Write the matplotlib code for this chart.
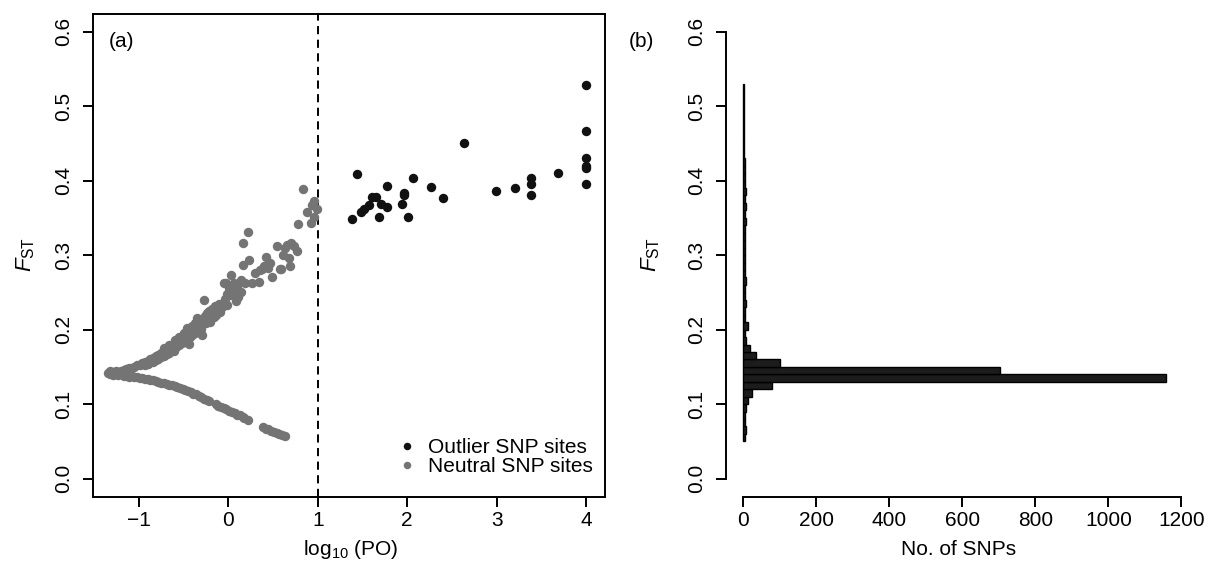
import numpy as np
import matplotlib
matplotlib.use('Agg')
import matplotlib.pyplot as plt
from matplotlib.lines import Line2D

plt.rcParams['font.family'] = ['Liberation Sans', 'DejaVu Sans']
plt.rcParams['mathtext.fontset'] = 'custom'
plt.rcParams['mathtext.rm'] = 'Liberation Sans'
plt.rcParams['mathtext.it'] = 'Liberation Sans:italic'
plt.rcParams['axes.unicode_minus'] = True

# ---------------- data ----------------
outlier_log_po = [4.0, 4.0, 4.0, 4.0, 4.0, 4.0, 3.69, 3.39, 3.39, 3.39, 3.21, 2.99, 2.64,
                  2.40, 2.27, 2.07, 1.97, 1.97, 1.94, 2.01, 1.77, 1.77, 1.71, 1.68, 1.65,
                  1.61, 1.57, 1.52, 1.48, 1.44, 1.38]
outlier_fst = [0.528, 0.466, 0.430, 0.420, 0.417, 0.396, 0.410, 0.404, 0.395, 0.381, 0.390,
               0.386, 0.450, 0.377, 0.391, 0.404, 0.384, 0.380, 0.368, 0.351, 0.393, 0.365,
               0.368, 0.351, 0.378, 0.378, 0.367, 0.362, 0.358, 0.409, 0.348]

neutral_log_po = [
    # apex
    -1.34, -1.32, -1.32, -1.29, -1.29, -1.26, -1.26, -1.23, -1.23, -1.20, -1.20, -1.17, -1.17,
    -1.14, -1.14, -1.11, -1.11, -1.08, -1.08, -1.05, -1.05, -1.02, -1.02, -0.99, -0.99,
    # lower branch
    -0.96, -0.93, -0.90, -0.87, -0.84, -0.81, -0.78, -0.75, -0.72, -0.69, -0.66, -0.63, -0.60,
    -0.57, -0.54, -0.51, -0.48, -0.45, -0.42, -0.39, -0.36, -0.33, -0.30, -0.27, -0.24, -0.22,
    -0.14, -0.11, -0.08, -0.05, -0.02, 0.01, 0.04, 0.07, 0.10, 0.13, 0.16, 0.18, 0.22,
    0.39, 0.42, 0.45, 0.48, 0.51, 0.54, 0.57, 0.60, 0.63,
    # upper branch
    -0.96, -0.93, -0.93, -0.90, -0.90, -0.87, -0.87, -0.84, -0.84, -0.81, -0.81, -0.78, -0.78,
    -0.75, -0.75, -0.72, -0.72, -0.72, -0.69, -0.69, -0.66, -0.66, -0.66, -0.63, -0.63, -0.61,
    -0.61, -0.60, -0.58, -0.58, -0.55, -0.55, -0.55, -0.52, -0.52, -0.49, -0.49, -0.49, -0.46,
    -0.46, -0.46, -0.43, -0.43, -0.40, -0.40, -0.40, -0.37, -0.37, -0.37, -0.35, -0.34, -0.32,
    -0.32, -0.29, -0.29, -0.28, -0.27, -0.26, -0.25, -0.24, -0.22, -0.21, -0.19, -0.18, -0.16,
    -0.16, -0.15, -0.14, -0.12, -0.10, -0.10, -0.09, -0.05, -0.04, -0.03, -0.01, -0.01, 0.03,
    0.03, 0.06, 0.06, 0.09, 0.10, 0.14, 0.14, 0.16, 0.16, 0.22, 0.23, 0.27, 0.34, 0.36, 0.38,
    0.40, 0.42, 0.44, 0.49, 0.55, 0.58, 0.59, 0.64, 0.66, 0.68, 0.69, 0.70, 0.77, 0.78, 0.84,
    0.88, 0.92, 0.94, 0.96, 0.96, 0.99,
    # extra scatter around the upper branch
    -0.44, -0.31, -0.20, -0.07, 0.01, 0.11, 0.19, 0.30, 0.47, 0.61, 0.73]
neutral_fst = [
    # apex
    0.142, 0.140, 0.144, 0.139, 0.143, 0.141, 0.145, 0.139, 0.143, 0.140, 0.145, 0.138, 0.146,
    0.139, 0.147, 0.137, 0.148, 0.138, 0.149, 0.136, 0.150, 0.137, 0.152, 0.135, 0.153,
    # lower branch
    0.135, 0.134, 0.134, 0.133, 0.132, 0.131, 0.130, 0.129, 0.128, 0.127, 0.126, 0.125, 0.124,
    0.123, 0.121, 0.120, 0.119, 0.117, 0.116, 0.114, 0.113, 0.111, 0.109, 0.107, 0.105, 0.104,
    0.100, 0.098, 0.096, 0.095, 0.093, 0.091, 0.089, 0.088, 0.086, 0.085, 0.083, 0.082, 0.079,
    0.069, 0.067, 0.066, 0.064, 0.063, 0.061, 0.060, 0.058, 0.057,
    # upper branch
    0.155, 0.156, 0.152, 0.158, 0.154, 0.160, 0.156, 0.162, 0.157, 0.164, 0.159, 0.166, 0.161,
    0.168, 0.163, 0.170, 0.165, 0.175, 0.172, 0.167, 0.175, 0.169, 0.180, 0.177, 0.172, 0.171,
    0.181, 0.186, 0.182, 0.176, 0.185, 0.179, 0.190, 0.187, 0.182, 0.190, 0.185, 0.196, 0.202,
    0.192, 0.187, 0.196, 0.190, 0.199, 0.193, 0.205, 0.201, 0.196, 0.209, 0.215, 0.206, 0.205,
    0.199, 0.193, 0.210, 0.214, 0.240, 0.218, 0.209, 0.222, 0.213, 0.225, 0.218, 0.228, 0.224,
    0.217, 0.232, 0.220, 0.231, 0.235, 0.226, 0.224, 0.262, 0.241, 0.263, 0.233, 0.248, 0.273,
    0.246, 0.263, 0.251, 0.238, 0.258, 0.266, 0.250, 0.287, 0.316, 0.331, 0.293, 0.262, 0.264,
    0.280, 0.281, 0.286, 0.298, 0.283, 0.271, 0.312, 0.281, 0.282, 0.309, 0.313, 0.296, 0.286,
    0.316, 0.306, 0.342, 0.389, 0.358, 0.343, 0.367, 0.373, 0.351, 0.362,
    # extra scatter around the upper branch
    0.181, 0.201, 0.210, 0.230, 0.256, 0.244, 0.262, 0.276, 0.290, 0.300, 0.312]

hist_bin_low = [0.05, 0.06, 0.07, 0.08, 0.09, 0.10, 0.11, 0.12, 0.13, 0.14, 0.15, 0.16,
                0.17, 0.18, 0.19, 0.20, 0.21, 0.22, 0.23, 0.24, 0.25, 0.26, 0.27, 0.28,
                0.29, 0.30, 0.31, 0.32, 0.33, 0.34, 0.35, 0.36, 0.37, 0.38, 0.39, 0.40,
                0.41, 0.42, 0.43, 0.44, 0.45, 0.46, 0.47, 0.48, 0.49, 0.50, 0.51, 0.52]
hist_counts = [4, 7, 4, 5, 8, 12, 25, 80, 1159, 702, 101, 34,
               19, 7, 5, 14, 5, 6, 7, 5, 6, 7, 5, 6,
               5, 6, 5, 4, 5, 7, 6, 7, 6, 8, 5, 6,
               4, 4, 3, 3, 3, 3, 2, 2, 2, 2, 2, 2]
bin_width = 0.01

x_ticks_a = [-1, 0, 1, 2, 3, 4]
y_ticks = [0.0, 0.1, 0.2, 0.3, 0.4, 0.5, 0.6]
y_ticklabels = ['0.0', '0.1', '0.2', '0.3', '0.4', '0.5', '0.6']
x_ticks_b = [0, 200, 400, 600, 800, 1000, 1200]
legend_labels = ['Outlier SNP sites', 'Neutral SNP sites']

# ---------------- figure ----------------
W, H = 1225, 577
fig = plt.figure(figsize=(W / 100, H / 100), dpi=100)

def rect(l, t, r, b):
    return [l / W, 1 - b / H, (r - l) / W, (b - t) / H]

ax1 = fig.add_axes(rect(93, 13.7, 605, 496.5))
ax2 = fig.add_axes(rect(725.7, 13.7, 1199, 496.5))

FS = 15
GREY = '#747474'
BLACK = '#111111'
LW = 1.4

# ---- panel (a) ----
ax1.scatter(neutral_log_po, neutral_fst, s=46, color=GREY, linewidths=0, zorder=2)
ax1.scatter(outlier_log_po, outlier_fst, s=46, color=BLACK, linewidths=0, zorder=3)
ax1.axvline(1, color='black', lw=1.4, ls=(0, (4.2, 2.8)), zorder=1)
ax1.set_xlim(-1.512, 4.212)
ax1.set_ylim(-0.024, 0.624)
ax1.set_xticks(x_ticks_a)
ax1.set_xticklabels(['\u22121', '0', '1', '2', '3', '4'])
ax1.set_yticks(y_ticks)
ax1.set_yticklabels(y_ticklabels)
for sp in ax1.spines.values():
    sp.set_linewidth(LW)

handles = [Line2D([], [], ls='none', marker='o', markersize=5.4, color=BLACK, markeredgewidth=0),
           Line2D([], [], ls='none', marker='o', markersize=5.4, color=GREY, markeredgewidth=0)]
ax1.legend(handles, legend_labels, loc='center left',
           bbox_to_anchor=(399 / W, 1 - 457 / H), bbox_transform=fig.transFigure,
           frameon=False, borderpad=0, borderaxespad=0, handlelength=0.8,
           handletextpad=0.6, labelspacing=0.0, fontsize=FS)
ax1.text(121 / W, 1 - 41.5 / H, '(a)', transform=fig.transFigure, fontsize=FS,
         ha='center', va='center')

# ---- panel (b) ----
ax2.barh(hist_bin_low, hist_counts, height=bin_width, align='edge', left=0,
         color='#1c1c1c', edgecolor='black', linewidth=1.0, zorder=2)
ax2.set_xlim(-48, 1248)
ax2.set_ylim(-0.024, 0.624)
ax2.set_xticks(x_ticks_b)
ax2.set_yticks(y_ticks)
ax2.set_yticklabels(y_ticklabels)
ax2.spines['top'].set_visible(False)
ax2.spines['right'].set_visible(False)
ax2.spines['left'].set_bounds(0, 0.6)
ax2.spines['bottom'].set_bounds(0, 1200)
for sp in ax2.spines.values():
    sp.set_linewidth(LW)

fig.text(641 / W, 1 - 41.5 / H, '(b)', fontsize=FS, ha='center', va='center')

for ax in (ax1, ax2):
    ax.tick_params(axis='both', direction='out', length=7.2, width=LW, labelsize=FS,
                   colors='black')
    ax.tick_params(axis='x', pad=3.0)
    ax.tick_params(axis='y', pad=14.0)
    for lab in ax.get_yticklabels():
        lab.set_rotation(90)
        lab.set_ha('center')
        lab.set_va('center')

# axis labels
fig.text(26 / W, 1 - 254 / H, r'$F_{\mathrm{ST}}$', rotation=90, fontsize=FS + 1,
         ha='center', va='center')
fig.text(651 / W, 1 - 254 / H, r'$F_{\mathrm{ST}}$', rotation=90, fontsize=FS + 1,
         ha='center', va='center')
fig.text(351 / W, 1 - 555 / H, r'log$_{10}$ (PO)', fontsize=FS, ha='center', va='baseline')
fig.text(959 / W, 1 - 555 / H, 'No. of SNPs', fontsize=FS, ha='center', va='baseline')

fig.savefig('out.png', dpi=100)
